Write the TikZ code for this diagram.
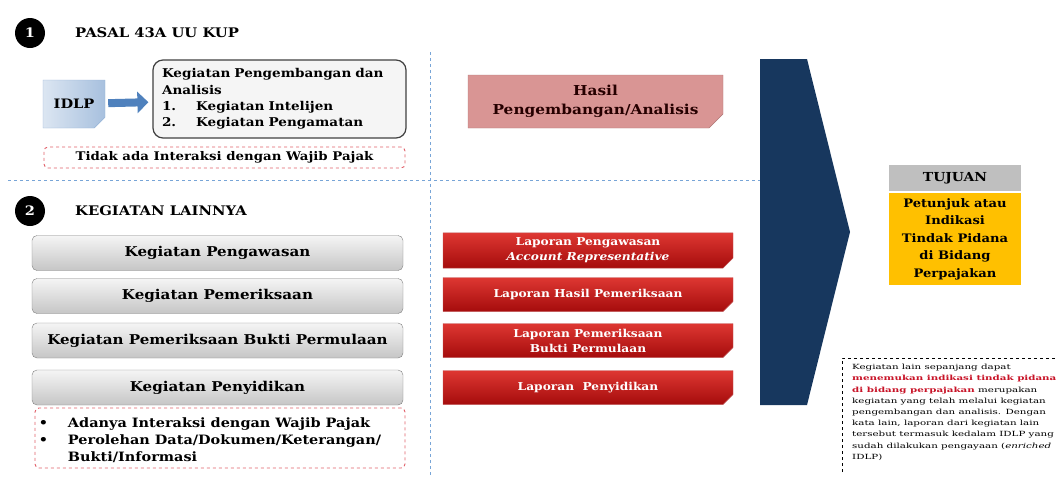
\documentclass[tikz,border=0pt]{standalone}
\usepackage{fontspec}
\setmainfont{DejaVu Serif}[FakeStretch=1.12]
\newfontfamily\notefont{DejaVu Serif}[FakeStretch=1.45]
\usetikzlibrary{shapes.misc,arrows.meta}
\definecolor{navy}{RGB}{23,55,94}
\definecolor{dashblue}{RGB}{120,165,215}
\definecolor{dashred}{RGB}{225,95,105}
\definecolor{arrowblue}{RGB}{79,129,189}
\definecolor{hasilpink}{RGB}{217,149,148}
\definecolor{darkred}{RGB}{165,12,12}
\definecolor{lightred}{RGB}{222,55,50}
\definecolor{tujuangray}{RGB}{191,191,191}
\definecolor{tujuanyellow}{RGB}{255,192,0}
\definecolor{notered}{RGB}{200,20,40}
\begin{document}
\begin{tikzpicture}[x=1pt,y=-1pt,
  num/.style={circle,fill=black,text=white,minimum size=30pt,inner sep=0pt,font=\bfseries\fontsize{13}{15}\selectfont},
  head/.style={anchor=west,inner sep=0pt,font=\bfseries\fontsize{13.2}{15}\selectfont},
  graybox/.style={rounded corners=5pt,draw=gray,top color=gray!8,bottom color=gray!45,minimum width=371pt,minimum height=35pt,inner sep=0pt,font=\bfseries\fontsize{13.5}{15}\selectfont},
  redbox/.style={chamfered rectangle,chamfered rectangle corners=south east,chamfered rectangle sep=5pt,top color=lightred,bottom color=darkred,draw=darkred!70,minimum width=290pt,minimum height=34pt,inner sep=0pt,text=white,align=center,font=\bfseries\fontsize{10.9}{15}\selectfont},
  reddash/.style={draw=dashred,dashed,rounded corners=4pt,line width=0.9pt},
  bluedash/.style={draw=dashblue,dashed,line width=0.9pt}]
\useasboundingbox (0,0) rectangle (1057,477);
% garis pemisah
\draw[bluedash] (8,180) -- (760,180);
\draw[bluedash,dash pattern=on 3pt off 3pt] (430,52) -- (430,477);
% bagian 1
\node[num] (n1) at (30,33) {1};
\node[head] (h1) at (75,33) {PASAL 43A UU KUP};
\node[chamfered rectangle,chamfered rectangle corners=south east,chamfered rectangle sep=6pt,
  draw=arrowblue!60,left color=arrowblue!20,right color=arrowblue!50,
  minimum width=62pt,minimum height=48pt,inner sep=0pt,font=\bfseries\fontsize{13}{15}\selectfont] (idlp) at (74,104) {IDLP};
\node[draw=black!75,line width=1.2pt,rounded corners=10pt,fill=gray!8,text width=235pt,minimum height=78pt,
  inner xsep=9pt,inner ysep=0pt,align=left,font=\bfseries\fontsize{12.1}{16.3}\selectfont] (kpa) at (279.5,99)
  {\begin{tabular}{@{}l@{\hspace{20pt}}l@{}}
   \multicolumn{2}{@{}l@{}}{Kegiatan Pengembangan dan}\\
   \multicolumn{2}{@{}l@{}}{Analisis}\\
   1. & Kegiatan Intelijen\\
   2. & Kegiatan Pengamatan
   \end{tabular}};
\draw[arrowblue,line width=8pt,-{Triangle[length=11pt,width=21pt]},shorten <=3pt,shorten >=4pt] (idlp) -- (kpa);
\node[reddash,minimum width=361pt,minimum height=21pt,inner sep=0pt,font=\bfseries\fontsize{11.9}{13}\selectfont] (tidak) at (224.5,157.5)
  {Tidak ada Interaksi dengan Wajib Pajak};
\node[chamfered rectangle,chamfered rectangle corners=south east,chamfered rectangle sep=7pt,
  fill=hasilpink,draw=hasilpink!80!black,minimum width=255pt,minimum height=53pt,inner sep=0pt,
  align=center,text=black!85!red,font=\bfseries\fontsize{13.7}{19}\selectfont] (hasil) at (595.5,101.5)
  {Hasil\\Pengembangan/Analisis};
% bagian 2
\node[num] (n2) at (30,211) {2};
\node[head] (h2) at (75,211) {KEGIATAN LAINNYA};
\node[graybox] (awas) at (217.5,253) {Kegiatan Pengawasan};
\node[graybox] (periksa) at (217.5,296) {Kegiatan Pemeriksaan};
\node[graybox] (bukper) at (217.5,340.5) {Kegiatan Pemeriksaan Bukti Permulaan};
\node[graybox] (sidik) at (217.5,387.5) {Kegiatan Penyidikan};
\node[reddash,minimum width=370pt,minimum height=60pt,inner sep=0pt] (interaksi) at (220,438) {};
\node[anchor=west,inner sep=0pt,font=\bfseries\fontsize{12.9}{17}\selectfont] (poin) at ([xshift=4pt,yshift=-3pt]interaksi.west)
  {\begin{tabular}{@{}l@{\hspace{20pt}}l@{}}
   \textbullet & Adanya Interaksi dengan Wajib Pajak\\
   \textbullet & Perolehan Data/Dokumen/Keterangan/\\
               & Bukti/Informasi
   \end{tabular}};
\node[redbox] (lap1) at (588,250.5) {Laporan Pengawasan\\\textit{Account Representative}};
\node[redbox] (lap2) at (588,294.5) {Laporan Hasil Pemeriksaan};
\node[redbox] (lap3) at (588,340.5) {Laporan Pemeriksaan\\Bukti Permulaan};
\node[redbox] (lap4) at (588,387.5) {Laporan\ \ Penyidikan};
% panah besar
\fill[navy] (760,59) -- (807,59) -- (850,232) -- (807,405) -- (760,405) -- cycle;
% tujuan
\node[fill=tujuangray,minimum width=132pt,minimum height=26pt,inner sep=0pt,font=\bfseries\fontsize{12.4}{14}\selectfont] (tujuan) at (955,178) {TUJUAN};
\node[fill=tujuanyellow,minimum width=132pt,minimum height=92pt,inner sep=0pt,align=center,
  font=\bfseries\fontsize{11.7}{17.5}\selectfont] (petunjuk) at (955,239)
  {Petunjuk atau\\Indikasi\\Tindak Pidana\\di Bidang\\Perpajakan};
% catatan
\node[anchor=north west,inner sep=0pt,align=left,font=\notefont\fontsize{7.1}{11.2}\selectfont] (catatan) at (852,364)
  {Kegiatan lain sepanjang dapat\\
   \textcolor{notered}{\bfseries menemukan indikasi tindak pidana}\\
   \textcolor{notered}{\bfseries di bidang perpajakan} merupakan\\
   kegiatan yang telah melalui kegiatan\\
   pengembangan dan analisis. Dengan\\
   kata lain, laporan dari kegiatan lain\\
   tersebut termasuk kedalam IDLP yang\\
   sudah dilakukan pengayaan (\textit{enriched}\\
   IDLP)};
\draw[dashed,line width=0.8pt] (842,472) |- (1057,358);
\end{tikzpicture}
\end{document}
